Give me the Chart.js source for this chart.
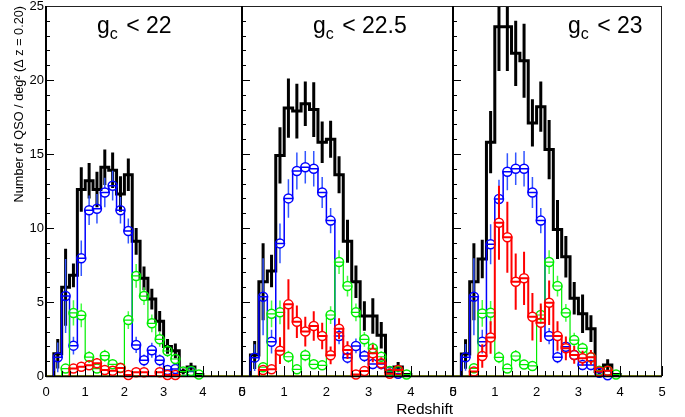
<!DOCTYPE html>
<html>
<head>
<meta charset="utf-8">
<script src="https://cdn.jsdelivr.net/npm/chart.js@4.4.1/dist/chart.umd.min.js"></script>
<style>
  html, body { margin: 0; padding: 0; background: #fff; }
  #wrap { position: relative; width: 685px; height: 417px; }
  #wrap canvas { position: absolute; left: 0; top: 0; }
</style>
</head>
<body>
<div id="wrap">
  <canvas id="p22" width="685" height="417"></canvas>
  <canvas id="p225" width="685" height="417"></canvas>
  <canvas id="p23" width="685" height="417"></canvas>
</div>
<script>
// Redshift bins (centres, width 0.2)
const zCentres = [0.1, 0.3, 0.5, 0.7, 0.9, 1.1, 1.3, 1.5, 1.7, 1.9,
                  2.1, 2.3, 2.5, 2.7, 2.9, 3.1, 3.3, 3.5, 3.7, 3.9];
const dz = 0.2;
const xTickLabels = ['0', '1', '2', '3', '4', '5'];
const yTickLabels = ['0', '5', '10', '15', '20', '25'];
const cutLabels = ['22', '22.5', '23'];

// g_c < 22
const total22    = [0, 1.5, 6.0, 6.8, 12.6, 13.2, 12.6, 14.1, 13.9, 12.3, 13.6, 9.1, 6.6, 5.2, 3.7, 2.0, 1.7, 0.3, 0.6, 0.1];
const totalErr22 = [0, 1.0, 2.6, 0.8, 1.5, 1.2, 1.2, 1.2, 1.2, 1.2, 1.1, 0.9, 0.8, 0.7, 0.7, 0.5, 0.5, 0.2, 0.3, 0.1];
const blue22     = [0, 1.26, 5.4, 2.05, 7.95, 11.2, 11.3, 12.4, 12.86, 11.2, 9.8, 2.1, 1.06, 1.74, 1.06, 0.4, 0.47, 0, 0.3, 0];
const blueErr22  = [0, 1.0, 2.5, 0.6, 1.2, 1.0, 1.0, 1.0, 1.0, 0.9, 0.85, 0.55, 0.4, 0.5, 0.4, 0.25, 0.3, 0, 0.3, 0];
const green22    = [0, 0, 0.5, 4.26, 4.1, 1.28, 0.5, 1.37, 0.79, 0.56, 3.78, 6.76, 5.4, 3.56, 2.48, 1.69, 1.15, 0.3, 0.34, 0.1];
const greenErr22 = [0, 0, 0.3, 0.85, 0.8, 0.4, 0.25, 0.4, 0.3, 0.25, 0.6, 0.8, 0.6, 0.6, 0.5, 0.4, 0.35, 0.2, 0.2, 0.1];
const red22      = [0, 0, 0, 0.5, 0.63, 0.72, 0.86, 0.4, 0.36, 0.54, 0.07, 0.25, 0.25, 0, 0.25, 0.07, 0.07, 0, 0, 0];
const redErr22   = [0, 0, 0, 0.25, 0.3, 0.3, 0.35, 0.25, 0.2, 0.3, 0.05, 0.2, 0.2, 0, 0.2, 0.05, 0.05, 0, 0, 0];

// g_c < 22.5
const total225    = [0, 1.42, 6.37, 7.1, 14.9, 18.1, 17.9, 18.4, 18.0, 15.8, 16.0, 13.6, 9.1, 6.37, 4.05, 4.05, 2.75, 0.3, 0.6, 0.1];
const totalErr225 = [0, 0.95, 2.6, 1.1, 1.9, 2.0, 1.85, 1.5, 1.85, 1.4, 1.25, 1.25, 1.45, 1.1, 1.0, 1.2, 0.9, 0.2, 0.35, 0.1];
const blue225     = [0, 1.24, 5.36, 2.32, 8.96, 12.0, 13.85, 14.1, 14.0, 12.4, 10.5, 2.7, 1.24, 2.03, 1.35, 0.81, 0.81, 0.3, 0.15, 0];
const blueErr225  = [0, 0.9, 2.6, 0.8, 1.35, 1.3, 1.25, 1.1, 1.2, 1.05, 0.85, 0.55, 0.4, 0.5, 0.4, 0.35, 0.35, 0.2, 0.1, 0];
const green225    = [0, 0, 0.59, 4.2, 4.3, 1.3, 0.45, 1.4, 0.79, 0.72, 4.12, 7.7, 6.08, 4.3, 2.48, 1.87, 1.3, 0.33, 0.33, 0.1];
const greenErr225 = [0, 0, 0.3, 0.9, 0.8, 0.4, 0.25, 0.4, 0.3, 0.3, 0.6, 0.8, 0.7, 0.6, 0.5, 0.4, 0.35, 0.2, 0.2, 0.1];
const red225      = [0, 0, 0.4, 0.45, 1.71, 4.84, 3.67, 3.0, 3.38, 2.7, 1.4, 3.2, 1.75, 0.1, 0.33, 1.53, 0.86, 0.15, 0.4, 0];
const redErr225   = [0, 0, 0.3, 0.3, 0.9, 1.7, 1.1, 1.0, 1.0, 0.9, 0.6, 0.7, 0.6, 0.1, 0.3, 0.6, 0.4, 0.1, 0.3, 0];

// g_c < 23
const total23    = [0, 1.49, 6.37, 7.9, 15.8, 23.6, 23.6, 21.8, 21.3, 17.1, 18.2, 15.3, 9.9, 8.06, 5.25, 4.2, 3.2, 0.3, 0.74, 0.1];
const totalErr23 = [0, 1.0, 2.6, 1.3, 2.1, 3.0, 3.0, 2.2, 2.5, 1.6, 1.7, 2.0, 2.0, 1.4, 1.1, 1.3, 0.9, 0.2, 0.4, 0.1];
const blue23     = [0, 1.26, 5.36, 2.32, 8.9, 11.96, 13.8, 14.0, 14.0, 12.4, 10.5, 2.7, 1.26, 1.98, 1.42, 0.74, 0.74, 0.22, 0.05, 0];
const blueErr23  = [0, 0.9, 2.6, 0.8, 1.35, 1.3, 1.25, 1.1, 1.2, 1.05, 0.85, 0.55, 0.4, 0.5, 0.4, 0.35, 0.35, 0.2, 0.1, 0];
const green23    = [0, 0, 0.52, 4.23, 4.27, 1.26, 0.5, 1.35, 0.77, 0.68, 4.12, 7.7, 6.08, 4.27, 2.43, 1.87, 1.26, 0.36, 0.36, 0.1];
const greenErr23 = [0, 0, 0.3, 0.9, 0.8, 0.4, 0.25, 0.4, 0.3, 0.3, 0.6, 0.8, 0.7, 0.6, 0.5, 0.4, 0.35, 0.2, 0.2, 0.1];
const red23      = [0, 0, 0.3, 1.35, 2.6, 10.36, 9.37, 6.37, 6.6, 4.0, 3.6, 4.95, 2.7, 1.87, 1.42, 1.2, 1.26, 0.3, 0.36, 0];
const redErr23   = [0, 0, 0.3, 0.8, 1.1, 2.5, 2.4, 1.9, 1.8, 1.6, 1.3, 1.5, 1.0, 0.8, 0.6, 0.5, 0.5, 0.2, 0.2, 0];

Chart.defaults.font.family = '"Liberation Sans", Arial, Helvetica, sans-serif';
Chart.defaults.color = '#000';

const FONT = '"Liberation Sans", Arial, Helvetica, sans-serif';
const MARKER_R = 4.5;          // open-circle radius, px
const Y_MAX = 25;

// outline of a histogram along the bin edges, over its filled range
function stepPoints(vals) {
  const first = vals.findIndex(v => v > 0);
  let last = vals.length - 1;
  while (last > first && !(vals[last] > 0)) last--;
  const pts = [{ x: zCentres[first] - dz / 2, y: 0 }];
  for (let i = first; i <= last; i++) pts.push({ x: zCentres[i] - dz / 2, y: vals[i] });
  pts.push({ x: zCentres[last] + dz / 2, y: 0 });
  return pts;
}

// vertical error bars at bin centres; 'gap' leaves the marker interior free
function errorPoints(vals, errs, gap) {
  const pts = [];
  const brk = x => pts.push({ x: x, y: null });
  vals.forEach((v, i) => {
    if (!(v > 0)) return;
    const x = zCentres[i], e = errs[i];
    if (gap > 0) {
      if (e > gap) {
        pts.push({ x: x, y: v + gap }, { x: x, y: v + e }); brk(x);
        pts.push({ x: x, y: v - gap }, { x: x, y: v - e }); brk(x);
      }
    } else {
      pts.push({ x: x, y: v - e }, { x: x, y: v + e }); brk(x);
    }
  });
  return pts;
}

function markerPoints(vals) {
  const pts = [];
  vals.forEach((v, i) => { if (v > 0) pts.push({ x: zCentres[i], y: v }); });
  return pts;
}

// frame, inward ticks and the magnitude-cut caption of each pad
const rootFrame = {
  id: 'rootFrame',
  afterDatasetsDraw(chart, args, opts) {
    const { ctx, chartArea: a, scales: { x, y } } = chart;
    ctx.save();
    ctx.strokeStyle = '#000';
    ctx.lineWidth = 1;
    ctx.beginPath();
    for (let k = 0; k <= 25; k++) {
      const py = Math.round(y.getPixelForValue(k)) + 0.5;
      const len = k % 5 === 0 ? 8 : 4;
      ctx.moveTo(a.left, py); ctx.lineTo(a.left + len, py);
    }
    for (let k = 0; k <= 25; k++) {
      const px = Math.round(x.getPixelForValue(k * 0.2)) + 0.5;
      const len = k % 5 === 0 ? 10 : 5;
      ctx.moveTo(px, a.bottom); ctx.lineTo(px, a.bottom - len);
    }
    ctx.stroke();

    // frame
    ctx.beginPath();
    ctx.lineWidth = 1;
    ctx.strokeStyle = '#222';
    ctx.moveTo(a.left, a.top + 0.5); ctx.lineTo(a.right, a.top + 0.5);
    ctx.moveTo(a.right - 0.5, a.top); ctx.lineTo(a.right - 0.5, a.bottom);
    ctx.stroke();
    ctx.beginPath();
    ctx.strokeStyle = '#000';
    ctx.lineWidth = 1.5;
    ctx.moveTo(a.left, a.bottom + 0.5); ctx.lineTo(a.right, a.bottom + 0.5);
    ctx.stroke();
    ctx.beginPath();
    ctx.lineWidth = 2;
    ctx.moveTo(a.left, a.top); ctx.lineTo(a.left, a.bottom + 1);
    ctx.stroke();

    // caption  g_c < cut
    let tx = a.left + opts.dx;
    const ty = a.top + opts.dy;
    ctx.fillStyle = '#000';
    ctx.textAlign = 'left';
    ctx.textBaseline = 'alphabetic';
    ctx.font = '23px ' + FONT;
    ctx.fillText('g', tx, ty);
    tx += ctx.measureText('g').width;
    ctx.font = '16px ' + FONT;
    ctx.fillText('c', tx, ty + 6);
    tx += ctx.measureText('c').width;
    ctx.font = '23px ' + FONT;
    ctx.fillText(' < ' + opts.cut, tx + 2, ty);
    ctx.restore();
  }
};

function makePanel(id, left, right, cut, captionDx, hist, first, showTitle) {
  const plotHeight = 417 - 6 - 41;
  const gap = MARKER_R * Y_MAX / plotHeight;   // marker radius in data units
  const ds = [];
  let ord = 100;
  ds.push({
    data: [{ x: 0, y: 0 }, { x: 5, y: 0 }],
    borderColor: '#7f8a1a', borderWidth: 2, pointRadius: 0, clip: false, order: ord--
  });
  hist.forEach(h => {
    ds.push({
      data: stepPoints(h.vals), stepped: 'before',
      borderColor: h.color, borderWidth: h.width, pointRadius: 0, clip: false, order: ord--
    });
    ds.push({
      data: errorPoints(h.vals, h.errs, h.marker ? gap : 0), spanGaps: false,
      borderColor: h.errColor || h.color, borderWidth: h.errWidth, pointRadius: 0, clip: 0, order: ord--
    });
    if (h.marker) {
      ds.push({
        data: markerPoints(h.vals), showLine: false,
        pointStyle: 'circle', pointRadius: MARKER_R, pointBorderWidth: 1.5,
        pointBorderColor: h.color, pointBackgroundColor: 'rgba(0,0,0,0)',
        clip: false, order: ord--
      });
    }
  });

  return new Chart(document.getElementById(id), {
    type: 'line',
    data: { datasets: ds },
    options: {
      responsive: false,
      animation: false,
      devicePixelRatio: 1,
      events: [],
      layout: { padding: { left: first ? 0 : left, right: 685 - right, top: 6, bottom: 0 } },
      plugins: {
        legend: { display: false },
        tooltip: { enabled: false },
        rootFrame: { cut: cut, dx: captionDx, dy: 27 }
      },
      scales: {
        x: {
          type: 'linear', min: 0, max: 5,
          grid: { display: false, drawTicks: false },
          border: { display: false },
          ticks: {
            stepSize: 1, padding: 9, autoSkip: false, maxRotation: 0, color: '#000',
            font: { size: 13 },
            callback: v => xTickLabels[Math.round(v)]
          },
          title: {
            display: showTitle, text: 'Redshift', align: 'end', color: '#000',
            font: { size: 15.5, lineHeight: 1 }, padding: { top: 0, bottom: 0 }
          },
          afterFit: s => { s.height = 41; s.paddingLeft = 0; s.paddingRight = 0; }
        },
        y: {
          type: 'linear', min: 0, max: Y_MAX, display: first,
          grid: { display: false, drawTicks: false },
          border: { display: false },
          ticks: {
            stepSize: 5, padding: 2, color: '#000', font: { size: 13 },
            callback: v => yTickLabels[Math.round(v / 5)]
          },
          title: {
            display: first, text: 'Number of QSO / deg\u00B2 (\u0394 z = 0.20)', align: 'end', color: '#000',
            font: { size: 12.7 }, padding: { top: 12, bottom: 0 }
          },
          afterFit: s => { s.width = first ? left : 0; s.paddingTop = 0; s.paddingBottom = 0; }
        }
      }
    },
    plugins: [rootFrame]
  });
}

function series(total, totalErr, blue, blueErr, green, greenErr, red, redErr) {
  return [
    { vals: total, errs: totalErr, color: '#000000', width: 3, errWidth: 3, marker: false },
    { vals: blue, errs: blueErr, color: '#0000ff', errColor: '#3355ff', width: 1.5, errWidth: 1.5, marker: true },
    { vals: green, errs: greenErr, color: '#00ee00', errColor: '#44ff44', width: 1.2, errWidth: 1.5, marker: true },
    { vals: red, errs: redErr, color: '#ff0000', width: 2, errWidth: 2, marker: true }
  ];
}

makePanel('p22', 46, 242, cutLabels[0], 51,
  series(total22, totalErr22, blue22, blueErr22, green22, greenErr22, red22, redErr22), true, false);
makePanel('p225', 242, 453, cutLabels[1], 71,
  series(total225, totalErr225, blue225, blueErr225, green225, greenErr225, red225, redErr225), false, true);
makePanel('p23', 453, 662, cutLabels[2], 115,
  series(total23, totalErr23, blue23, blueErr23, green23, greenErr23, red23, redErr23), false, false);
</script>
</body>
</html>
